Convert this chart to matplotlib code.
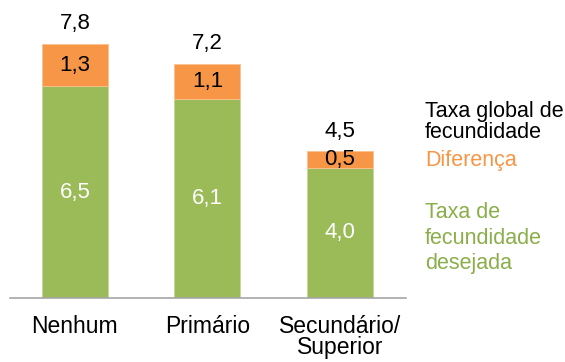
import matplotlib.pyplot as plt
import numpy as np

plt.rcParams['font.family'] = ['Liberation Sans', 'DejaVu Sans']

# Data
categories = ['Nenhum', 'Primário', 'Secundário/\nSuperior']
desired = [6.5, 6.1, 4.0]      # Taxa de fecundidade desejada
difference = [1.3, 1.1, 0.5]   # Diferença
total = [7.8, 7.2, 4.5]        # Taxa global de fecundidade

green = '#9BBB59'
orange = '#F79646'


def fmt(v):
    return f"{v:.1f}".replace('.', ',')


fig = plt.figure(figsize=(5.65, 3.62), dpi=100)
ax = fig.add_axes([0.0177, 0.1768, 0.7009, 0.8094])

x = np.arange(len(categories))
width = 0.5

ax.bar(x, desired, width, color=green, edgecolor='#C4D79B', linewidth=0.6)
ax.bar(x, difference, width, bottom=desired, color=orange, edgecolor='#FAC090', linewidth=0.6)

# Value labels
for i in range(len(categories)):
    ax.text(x[i], desired[i] / 2, fmt(desired[i]), ha='center', va='center',
            color='white', fontsize=16)
    ax.text(x[i], desired[i] + difference[i] / 2, fmt(difference[i]),
            ha='center', va='center', color='black', fontsize=16)
    ax.text(x[i], total[i] + 0.62, fmt(total[i]), ha='center', va='center',
            color='black', fontsize=16)

ax.set_xlim(-0.49, 2.5)
ax.set_ylim(0, 9)
ax.set_yticks([])
ax.set_xticks(x)
ax.set_xticklabels(categories, fontsize=16.5, linespacing=0.88)
ax.tick_params(axis='x', length=0, pad=12)

for side in ['top', 'right', 'left']:
    ax.spines[side].set_visible(False)
ax.spines['bottom'].set_color('#A6A6A6')
ax.spines['bottom'].set_linewidth(1.2)

# Legend-like annotations on the right
fig.text(425 / 565, 1 - 122 / 362, 'Taxa global de\nfecundidade', ha='left', va='center',
         fontsize=15.5, color='black', linespacing=1.05)
fig.text(425 / 565, 1 - 161 / 362, 'Diferença', ha='left', va='center',
         fontsize=15.5, color=orange)
fig.text(425 / 565, 1 - 238 / 362, 'Taxa de\nfecundidade\ndesejada', ha='left', va='center',
         fontsize=15.5, color='#8AAE4A', linespacing=1.3)

fig.savefig('out.png', dpi=100, facecolor='white')
